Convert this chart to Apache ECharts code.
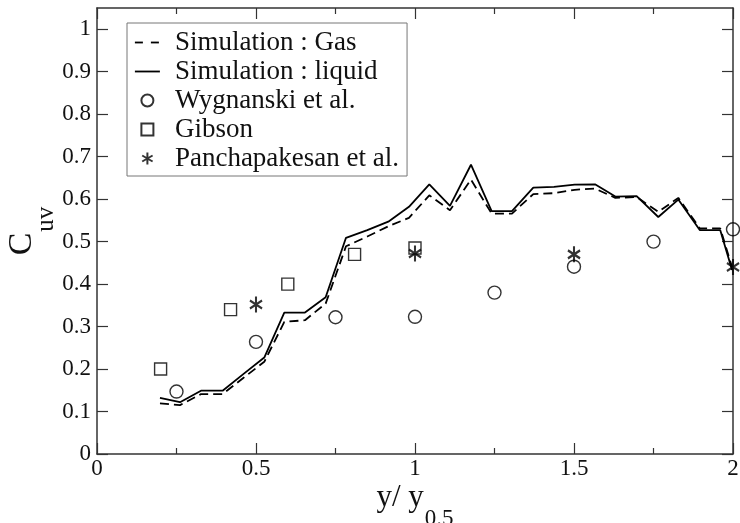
<!DOCTYPE html>
<html>
<head>
<meta charset="utf-8">
<script src="https://cdn.jsdelivr.net/npm/echarts@6/dist/echarts.min.js"></script>
<style>
  html, body { margin: 0; padding: 0; background: #fff; }
  #chart { width: 740px; height: 523px; }
</style>
</head>
<body>
<div id="chart"></div>
<script>
// ---- data ----
const simX = [0.198, 0.261, 0.327, 0.395, 0.460, 0.526, 0.589, 0.654, 0.719, 0.783,
              0.850, 0.916, 0.981, 1.045, 1.110, 1.176, 1.241, 1.305, 1.372, 1.437,
              1.502, 1.566, 1.630, 1.697, 1.765, 1.828, 1.896, 1.960, 1.997];
const gasY = [0.119, 0.115, 0.141, 0.141, 0.179, 0.217, 0.311, 0.315, 0.354, 0.489,
              0.512, 0.536, 0.556, 0.609, 0.574, 0.646, 0.566, 0.566, 0.612, 0.614,
              0.622, 0.625, 0.603, 0.605, 0.570, 0.603, 0.531, 0.531, 0.440];
const liquidY = [0.132, 0.122, 0.149, 0.149, 0.188, 0.227, 0.333, 0.333, 0.369, 0.509,
                 0.527, 0.547, 0.582, 0.635, 0.584, 0.681, 0.572, 0.572, 0.627, 0.629,
                 0.634, 0.635, 0.606, 0.607, 0.558, 0.599, 0.527, 0.527, 0.433];
const wygX = [0.25, 0.5, 0.75, 1.0, 1.25, 1.5, 1.75, 2.0];
const wygY = [0.147, 0.264, 0.322, 0.323, 0.380, 0.441, 0.500, 0.529];
const gibX = [0.20, 0.42, 0.60, 0.81, 1.00];
const gibY = [0.200, 0.340, 0.400, 0.470, 0.485];
const panX = [0.5, 1.0, 1.5, 2.0];
const panY = [0.352, 0.472, 0.470, 0.440];
const yTicks = [0, 0.1, 0.2, 0.3, 0.4, 0.5, 0.6, 0.7, 0.8, 0.9, 1.0];
const seriesNames = ['Simulation : Gas', 'Simulation : liquid', 'Wygnanski et al.', 'Gibson', 'Panchapakesan et al.'];

const zip = (xs, ys) => xs.map((x, i) => [x, ys[i]]);
const FONT = "'Liberation Serif', 'Times New Roman', serif";
const INK = '#111';
const FRAME = '#333';
const starPath = 'path://M0,-1L0,1M-0.866,-0.5L0.866,0.5M-0.866,0.5L0.866,-0.5';
const squarePath = 'path://M0,0H10V10H0Z';

const chart = echarts.init(document.getElementById('chart'), null, { renderer: 'canvas' });

const frameLine = { show: true, onZero: false, lineStyle: { color: FRAME, width: 1.5 } };
const tickStyle = { color: FRAME, width: 1.2 };

chart.setOption({
  animation: false,
  backgroundColor: '#fff',
  grid: { left: 97, right: 7, top: 8, bottom: 69, containLabel: false, outerBoundsMode: 'none' },
  legend: {
    orient: 'vertical',
    left: 127, top: 23,
    padding: [6, 8, 4, 7],
    itemGap: 2,
    itemWidth: 25,
    itemHeight: 12,
    symbolKeepAspect: true,
    borderColor: '#777',
    borderWidth: 1,
    backgroundColor: '#fff',
    data: [
      { name: seriesNames[0], itemStyle: { opacity: 0 }, lineStyle: { type: [8, 8], width: 1.8, color: '#000' } },
      { name: seriesNames[1], itemStyle: { opacity: 0 }, lineStyle: { type: 'solid', width: 1.8, color: '#000' } },
      { name: seriesNames[2] },
      { name: seriesNames[3] },
      { name: seriesNames[4] }
    ],
    textStyle: { fontFamily: FONT, fontSize: 27, color: INK, padding: [0, 0, 0, 10] }
  },
  xAxis: [
    {
      type: 'value', position: 'bottom', min: 0, max: 2, interval: 0.5,
      axisLine: frameLine,
      axisTick: { show: true, inside: true, length: 11, lineStyle: tickStyle },
      minorTick: { show: true, splitNumber: 2, length: 6, lineStyle: tickStyle },
      splitLine: { show: false },
      axisLabel: { margin: 3, fontFamily: FONT, fontSize: 23, color: INK,
                   formatter: v => String(+v.toFixed(2)) },
      name: '{m|y/ y}{sub|0.5}',
      nameLocation: 'middle',
      nameGap: 37,
      nameMoveOverlap: false,
      nameTextStyle: {
        fontFamily: FONT, fontSize: 31, color: INK,
        rich: {
          m: { fontFamily: FONT, fontSize: 31, color: INK, lineHeight: 31, padding: [0, 0, 17, 0] },
          sub: { fontFamily: FONT, fontSize: 23, color: INK, lineHeight: 23, padding: [25, 0, 0, 1] }
        }
      }
    },
    {
      type: 'value', position: 'top', min: 0, max: 2, interval: 0.5,
      axisLine: frameLine,
      axisTick: { show: true, inside: true, length: 11, lineStyle: tickStyle },
      minorTick: { show: true, splitNumber: 2, length: 6, lineStyle: tickStyle },
      splitLine: { show: false },
      axisLabel: { show: false }
    }
  ],
  yAxis: [
    {
      type: 'value', position: 'left', min: 0, max: 1.05, interval: 0.1,
      axisLine: frameLine,
      axisTick: { show: true, inside: true, length: 11, customValues: yTicks, lineStyle: tickStyle },
      splitLine: { show: false },
      axisLabel: { margin: 6, fontFamily: FONT, fontSize: 23, color: INK, customValues: yTicks,
                   formatter: v => (Math.abs(v - 1.05) < 1e-6 ? '' : String(+v.toFixed(2))) },
      name: '{m|C}{sub|uv}',
      nameLocation: 'middle',
      nameGap: 48,
      nameRotate: 90,
      nameMoveOverlap: false,
      nameTextStyle: {
        fontFamily: FONT, fontSize: 34, color: INK,
        rich: {
          m: { fontFamily: FONT, fontSize: 34, color: INK, lineHeight: 34, padding: [0, 0, 19, 0] },
          sub: { fontFamily: FONT, fontSize: 25, color: INK, lineHeight: 25, padding: [28, 0, 0, 1] }
        }
      }
    },
    {
      type: 'value', position: 'right', min: 0, max: 1.05, interval: 0.1,
      axisLine: frameLine,
      axisTick: { show: true, inside: true, length: 11, customValues: yTicks, lineStyle: tickStyle },
      splitLine: { show: false },
      axisLabel: { show: false }
    }
  ],
  series: [
    {
      name: seriesNames[0], type: 'line', xAxisIndex: 0, yAxisIndex: 0,
      data: zip(simX, gasY), symbol: 'none', z: 3,
      lineStyle: { color: '#000', width: 1.8, type: [9, 5] },
      itemStyle: { color: '#000' }
    },
    {
      name: seriesNames[1], type: 'line', xAxisIndex: 0, yAxisIndex: 0,
      data: zip(simX, liquidY), symbol: 'none', z: 3,
      lineStyle: { color: '#000', width: 1.8, type: 'solid' },
      itemStyle: { color: '#000' }
    },
    {
      name: seriesNames[2], type: 'scatter', xAxisIndex: 0, yAxisIndex: 0,
      data: zip(wygX, wygY), symbol: 'circle', symbolSize: 13, symbolKeepAspect: true, z: 4,
      itemStyle: { color: 'rgba(255,255,255,0)', borderColor: '#000', borderWidth: 1.4 }
    },
    {
      name: seriesNames[3], type: 'scatter', xAxisIndex: 0, yAxisIndex: 0,
      data: zip(gibX, gibY), symbol: squarePath, symbolSize: 12, symbolKeepAspect: true, z: 4,
      itemStyle: { color: 'rgba(255,255,255,0)', borderColor: '#000', borderWidth: 1.4 }
    },
    {
      name: seriesNames[4], type: 'scatter', xAxisIndex: 0, yAxisIndex: 0,
      data: zip(panX, panY), symbol: starPath, symbolSize: [14, 16], symbolKeepAspect: true, z: 4,
      itemStyle: { color: '#000', borderColor: '#000', borderWidth: 2.2 }
    }
  ]
});
</script>
</body>
</html>
